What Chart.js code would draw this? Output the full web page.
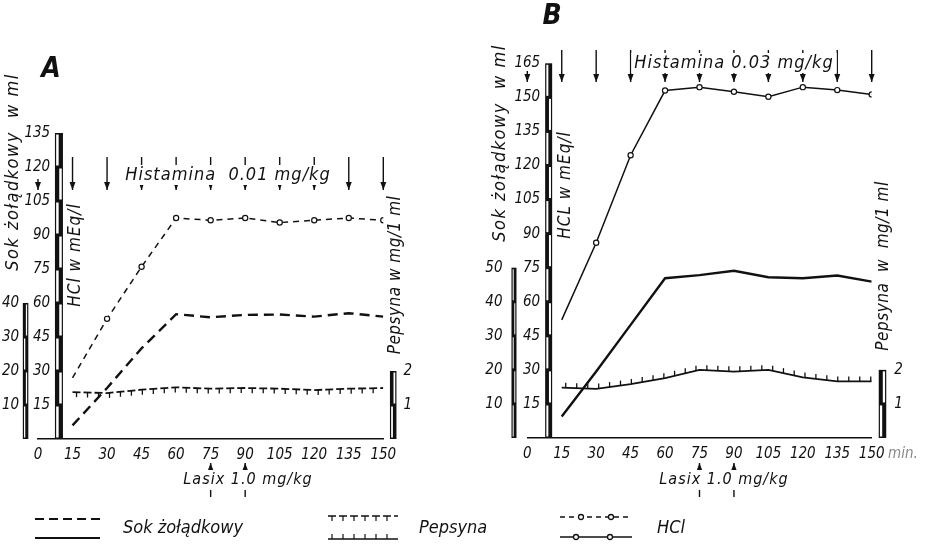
<!DOCTYPE html>
<html>
<head>
<meta charset="utf-8">
<script src="https://cdn.jsdelivr.net/npm/chart.js@4.4.0/dist/chart.umd.min.js"></script>
<style>
  body { margin: 0; background: #fff; }
  #wrap { position: relative; width: 940px; height: 550px; }
  #wrap canvas { position: absolute; left: 0; top: 0; }
</style>
</head>
<body>
<div id="wrap">
  <canvas id="chartA" width="940" height="550"></canvas>
  <canvas id="chartB" width="940" height="550"></canvas>
</div>
<script>
// sampling times (min)
const minutes = [15, 30, 45, 60, 75, 90, 105, 120, 135, 150];
const xTickValues = [0, 15, 30, 45, 60, 75, 90, 105, 120, 135, 150];
const histTimes = [0, 15, 30, 45, 60, 75, 90, 105, 120, 135, 150];
const lasixTimes = [75, 90];

// A - histamine 0.01 mg/kg
const hclA = [27, 53, 76, 97.5, 96.5, 97.5, 95.5, 96.5, 97.5, 96.5];
const sokA = [4, 15, 26.7, 36.7, 35.8, 36.5, 36.6, 36, 37, 36];
const pepA = [1.38, 1.35, 1.45, 1.52, 1.48, 1.5, 1.48, 1.44, 1.48, 1.5];

// B - histamine 0.03 mg/kg
const hclB = [52, 86, 124.5, 153, 154.5, 152.5, 150.3, 154.5, 153.2, 151.3];
const sokB = [6.3, 19.5, 33.2, 46.9, 47.8, 49.1, 47.2, 46.9, 47.7, 45.9];
const pepB = [1.48, 1.44, 1.58, 1.76, 2.0, 1.95, 2.0, 1.78, 1.66, 1.66];

// tick labels
const hclTicksA = [15, 30, 45, 60, 75, 90, 105, 120, 135];
const hclTicksB = [15, 30, 45, 60, 75, 90, 105, 120, 135, 150, 165];
const sokTicksA = [10, 20, 30, 40];
const sokTicksB = [10, 20, 30, 40, 50];
const pepTicks = [1, 2];

const INK = '#111';
const NUM_FONT = { family: '"DejaVu Sans Condensed", "DejaVu Sans", sans-serif', size: 15, style: 'italic' };
const TXT = '"DejaVu Sans Condensed", "DejaVu Sans", sans-serif';

function pts(values) {
    return minutes.map((m, i) => ({ x: m, y: values[i] }));
}

function fixedTicks(list) {
    return function(scale) {
        scale.ticks = list.map(v => ({ value: v }));
    };
}

// y axes sit at a fixed minute value; labels end at that point
function yAxis(at, max, list) {
    return {
        type: 'linear',
        axis: 'y',
        position: { x: at },
        min: 0,
        max: max,
        afterBuildTicks: fixedTicks(list),
        grid: { display: false, drawTicks: false },
        border: { display: false },
        ticks: { font: NUM_FONT, color: INK, padding: 0 }
    };
}

// hatch marks on the pepsin line
const hatchPlugin = {
    id: 'hatch',
    afterDatasetsDraw(chart) {
        const ctx = chart.ctx;
        chart.data.datasets.forEach((ds, i) => {
            if (!ds.hatch) return;
            const p = chart.getDatasetMeta(i).data;
            ctx.save();
            ctx.strokeStyle = INK;
            ctx.lineWidth = 1.3;
            let d0 = 4;
            for (let k = 1; k < p.length; k++) {
                const a = p[k - 1], b = p[k];
                const len = Math.hypot(b.x - a.x, b.y - a.y);
                let d = d0;
                while (d < len) {
                    const t = d / len;
                    const x = a.x + (b.x - a.x) * t, y = a.y + (b.y - a.y) * t;
                    ctx.beginPath();
                    ctx.moveTo(x, y);
                    ctx.lineTo(x, y + ds.hatch * 5);
                    ctx.stroke();
                    d += ds.hatchGap;
                }
                d0 = d - len;
            }
            ctx.restore();
        });
    }
};

function vText(ctx, s, x, y, font, spacing) {
    ctx.save();
    ctx.translate(x, y);
    ctx.rotate(-Math.PI / 2);
    ctx.font = font;
    ctx.letterSpacing = spacing || '0px';
    ctx.textAlign = 'center';
    ctx.textBaseline = 'middle';
    ctx.fillText(s, 0, 0);
    ctx.restore();
}

function boxedText(ctx, s, x, y, font) {
    ctx.font = font;
    ctx.letterSpacing = '1px';
    const w = ctx.measureText(s).width;
    ctx.fillStyle = '#fff';
    ctx.fillRect(x - w / 2 - 3, y - 10, w + 6, 20);
    ctx.fillStyle = INK;
    ctx.textAlign = 'center';
    ctx.textBaseline = 'middle';
    ctx.fillText(s, x, y);
    ctx.letterSpacing = '0px';
}

function arrow(ctx, x, y0, y1, dir) {
    ctx.beginPath();
    ctx.moveTo(x, y0);
    ctx.lineTo(x, y1);
    ctx.stroke();
    const tip = dir > 0 ? y1 : y0;
    ctx.beginPath();
    ctx.moveTo(x, tip);
    ctx.lineTo(x - 3, tip - dir * 8);
    ctx.lineTo(x + 3, tip - dir * 8);
    ctx.closePath();
    ctx.fill();
}

function drawLegend(ctx) {
    ctx.save();
    ctx.strokeStyle = INK;
    ctx.fillStyle = INK;
    // Sok zoladkowy
    ctx.lineWidth = 2;
    ctx.setLineDash([9, 5]);
    ctx.beginPath(); ctx.moveTo(35, 519); ctx.lineTo(100, 519); ctx.stroke();
    ctx.setLineDash([]);
    ctx.beginPath(); ctx.moveTo(35, 538); ctx.lineTo(100, 538); ctx.stroke();
    // Pepsyna
    ctx.lineWidth = 1.5;
    ctx.setLineDash([8, 3]);
    ctx.beginPath(); ctx.moveTo(328, 516); ctx.lineTo(398, 516); ctx.stroke();
    ctx.setLineDash([]);
    ctx.beginPath(); ctx.moveTo(328, 539); ctx.lineTo(398, 539); ctx.stroke();
    ctx.lineWidth = 1.2;
    for (let x = 332; x < 398; x += 11) {
        ctx.beginPath(); ctx.moveTo(x, 516); ctx.lineTo(x, 521); ctx.stroke();
        ctx.beginPath(); ctx.moveTo(x, 539); ctx.lineTo(x, 534); ctx.stroke();
    }
    // HCl
    ctx.lineWidth = 1.3;
    ctx.setLineDash([5, 4]);
    ctx.beginPath(); ctx.moveTo(560, 517); ctx.lineTo(632, 517); ctx.stroke();
    ctx.setLineDash([]);
    ctx.beginPath(); ctx.moveTo(560, 537); ctx.lineTo(632, 537); ctx.stroke();
    [[581, 517], [611, 517], [576, 537], [610, 537]].forEach(([x, y]) => {
        ctx.beginPath(); ctx.arc(x, y, 2.5, 0, Math.PI * 2);
        ctx.fillStyle = '#fff'; ctx.fill(); ctx.stroke();
    });
    ctx.fillStyle = INK;
    ctx.font = 'italic 18px ' + TXT;
    ctx.textBaseline = 'middle';
    ctx.textAlign = 'left';
    ctx.fillText('Sok żołądkowy', 123, 528);
    ctx.fillText('Pepsyna', 419, 528);
    ctx.fillText('HCl', 657, 528);
    ctx.restore();
}

// scale bars, arrows and texts
const decoPlugin = {
    id: 'deco',
    afterDraw(chart, args, o) {
        const ctx = chart.ctx, xs = chart.scales.x;
        ctx.save();
        o.bars.forEach(b => {
            const sc = chart.scales[b.axis];
            const x = xs.getPixelForValue(b.at);
            const y0 = sc.getPixelForValue(0), y1 = sc.getPixelForValue(b.top);
            ctx.fillStyle = INK;
            ctx.fillRect(x - b.w / 2, y1, b.w, y0 - y1);
            ctx.fillStyle = '#fff';
            const n = Math.round(b.top / b.step);
            for (let i = 0; i < n; i++) {
                const ya = sc.getPixelForValue(i * b.step), yb = sc.getPixelForValue((i + 1) * b.step);
                const left = i % 2 === 0;
                ctx.fillRect(left ? x - b.w / 2 + 1.2 : x + 0.3, yb + 1.5, b.w / 2 - 1.5, ya - yb - 3);
            }
        });

        ctx.fillStyle = INK;
        ctx.strokeStyle = INK;
        ctx.lineWidth = 1.4;
        o.titles.forEach(t => vText(ctx, t.text, t.x, t.y, t.font, t.spacing));

        // histamine injections
        histTimes.forEach(t => {
            const x = xs.getPixelForValue(t);
            arrow(ctx, x, t === 0 ? o.hist.y1 - 11 : o.hist.y0, o.hist.y1, 1);
        });
        boxedText(ctx, o.hist.text, o.hist.tx, o.hist.ty, 'italic 18px ' + TXT);

        // lasix
        lasixTimes.forEach(t => {
            const x = xs.getPixelForValue(t);
            arrow(ctx, x, o.lasix.y0, o.lasix.y1, -1);
        });
        boxedText(ctx, 'Lasix 1.0 mg/kg', o.lasix.tx, o.lasix.ty, 'italic 16px ' + TXT);

        ctx.font = 'italic bold 28px ' + TXT;
        ctx.textAlign = 'center';
        ctx.textBaseline = 'middle';
        ctx.fillText(o.letter.text, o.letter.x, o.letter.y);

        if (o.unit) {
            ctx.fillStyle = '#888';
            ctx.font = 'italic 15px ' + TXT;
            ctx.textAlign = 'left';
            ctx.fillText('min.', o.unit.x, o.unit.y);
        }
        if (o.legend) drawLegend(ctx);
        ctx.restore();
    }
};

function makePanel(id, p) {
    return new Chart(document.getElementById(id), {
        type: 'line',
        data: {
            datasets: [
                {
                    label: 'HCl',
                    data: pts(p.hcl),
                    yAxisID: 'hcl',
                    borderColor: INK,
                    borderWidth: 1.5,
                    borderDash: p.dashed ? [6, 5] : [],
                    pointRadius: minutes.map(m => (m > 15 ? 2.6 : 0)),
                    pointBackgroundColor: '#fff',
                    pointBorderColor: INK,
                    pointBorderWidth: 1.2,
                    tension: 0
                },
                {
                    label: 'Sok żołądkowy',
                    data: pts(p.sok),
                    yAxisID: 'sok',
                    borderColor: INK,
                    borderWidth: 2.4,
                    borderDash: p.dashed ? [10, 6] : [],
                    pointRadius: 0,
                    tension: 0
                },
                {
                    label: 'Pepsyna',
                    data: pts(p.pep),
                    yAxisID: 'pep',
                    borderColor: INK,
                    borderWidth: 1.8,
                    borderDash: p.dashed ? [8, 3] : [],
                    pointRadius: 0,
                    tension: 0,
                    hatch: p.dashed ? 1 : -1,
                    hatchGap: 11
                }
            ]
        },
        options: {
            responsive: false,
            animation: false,
            layout: { padding: p.pad },
            plugins: {
                legend: { display: false },
                tooltip: { enabled: false },
                deco: p.deco
            },
            scales: {
                x: {
                    type: 'linear',
                    min: 0,
                    max: 150,
                    afterBuildTicks: fixedTicks(xTickValues),
                    afterFit: s => { s.height = 20; },
                    grid: { display: false, drawTicks: false },
                    border: { color: INK, width: 1.6 },
                    ticks: { font: NUM_FONT, color: INK, padding: 7, maxRotation: 0, minRotation: 0, autoSkip: false }
                },
                hcl: yAxis(p.hclAt, p.hclMax, p.hclTicks),
                sok: yAxis(p.sokAt, p.hclMax * 10 / 15, p.sokTicks),
                pep: yAxis(p.pepAt, p.hclMax / 15, pepTicks)
            }
        },
        plugins: [hatchPlugin, decoPlugin]
    });
}

makePanel('chartA', {
    hcl: hclA, sok: sokA, pep: pepA, dashed: true,
    hclMax: 135, hclTicks: hclTicksA, sokTicks: sokTicksA,
    hclAt: 5.3, sokAt: -8.2, pepAt: 162.5,
    pad: { left: 38, right: 556.7, top: 133, bottom: 91 },
    deco: {
        bars: [
            { axis: 'hcl', at: 9.1, top: 135, step: 15, w: 8 },
            { axis: 'sok', at: -5.4, top: 40, step: 10, w: 5.5 },
            { axis: 'pep', at: 154.3, top: 2, step: 1, w: 6.5 }
        ],
        titles: [
            { text: 'Sok żołądkowy  w ml', x: 13, y: 172, font: 'italic 18px ' + TXT, spacing: '1.5px' },
            { text: 'HCl w mEq/l', x: 76, y: 255, font: 'italic 17px ' + TXT, spacing: '1px' },
            { text: 'Pepsyna w mg/1 ml', x: 396, y: 275, font: 'italic 17px ' + TXT, spacing: '0.5px' }
        ],
        hist: { y0: 157, y1: 190, text: 'Histamina  0.01 mg/kg', tx: 228, ty: 175 },
        lasix: { y0: 463, y1: 497, tx: 248, ty: 480 },
        letter: { text: 'A', x: 51, y: 70 }
    }
});

makePanel('chartB', {
    hcl: hclB, sok: sokB, pep: pepB, dashed: false,
    hclMax: 165, hclTicks: hclTicksB, sokTicks: sokTicksB,
    hclAt: 5.6, sokAt: -10.8, pepAt: 163.6,
    pad: { left: 527.3, right: 68.3, top: 63.3, bottom: 92 },
    deco: {
        bars: [
            { axis: 'hcl', at: 9.3, top: 165, step: 15, w: 7 },
            { axis: 'sok', at: -5.8, top: 50, step: 10, w: 5 },
            { axis: 'pep', at: 154.7, top: 2, step: 1, w: 7.5 }
        ],
        titles: [
            { text: 'Sok żołądkowy  w ml', x: 500, y: 143, font: 'italic 18px ' + TXT, spacing: '1.5px' },
            { text: 'HCL w mEq/l', x: 566, y: 185, font: 'italic 17px ' + TXT, spacing: '1px' },
            { text: 'Pepsyna  w  mg/1 ml', x: 884, y: 266, font: 'italic 17px ' + TXT, spacing: '0.5px' }
        ],
        hist: { y0: 50, y1: 82, text: 'Histamina 0.03 mg/kg', tx: 734, ty: 63 },
        lasix: { y0: 463, y1: 497, tx: 724, ty: 480 },
        letter: { text: 'B', x: 552, y: 17 },
        unit: { x: 888, y: 454 },
        legend: true
    }
});
</script>
</body>
</html>
